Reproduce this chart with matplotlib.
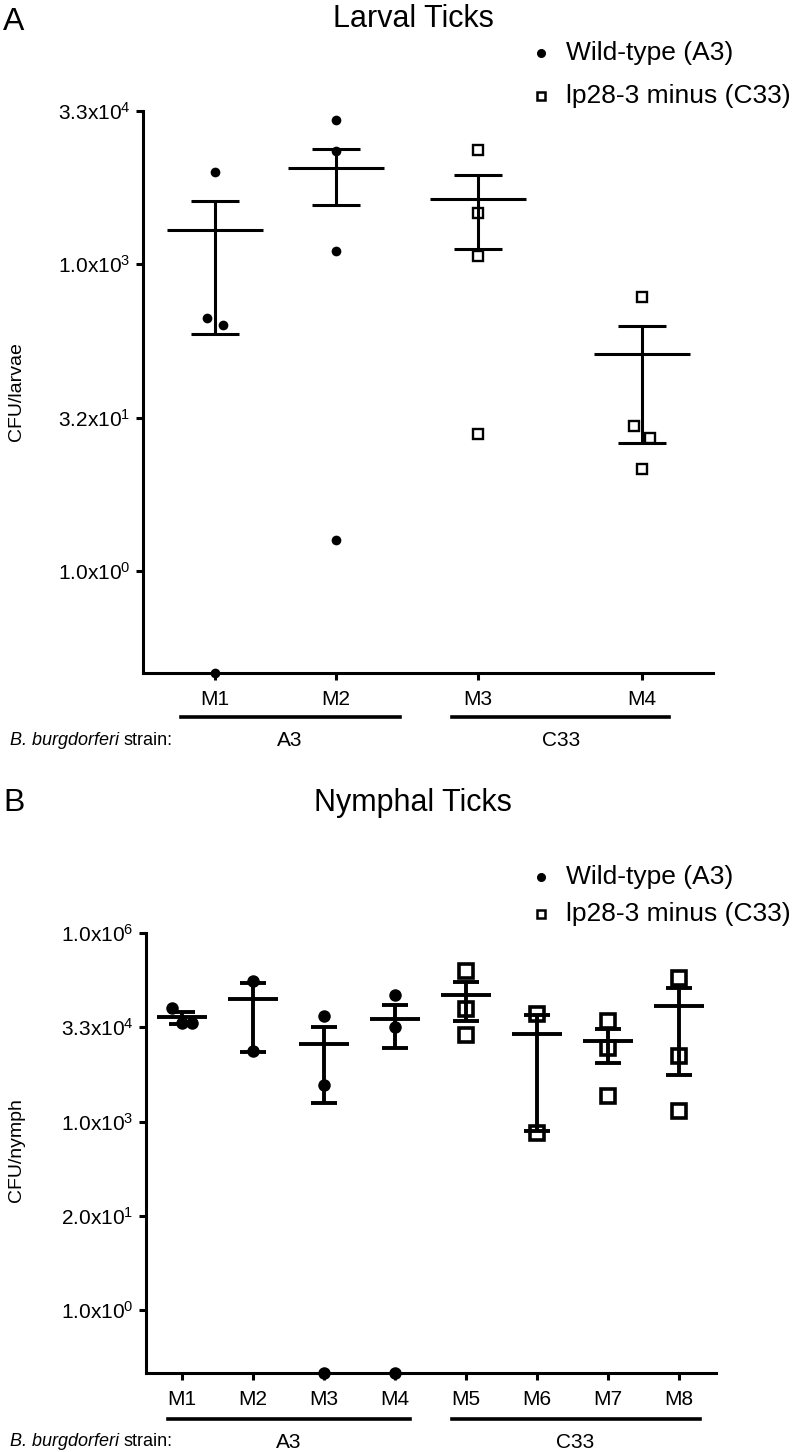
import matplotlib
matplotlib.use('Agg')
import matplotlib.pyplot as plt
from matplotlib.lines import Line2D
import numpy as np

plt.rcParams['font.family'] = ['Liberation Sans', 'DejaVu Sans']
plt.rcParams['mathtext.fontset'] = 'custom'
plt.rcParams['mathtext.rm'] = 'Liberation Sans'
plt.rcParams['mathtext.it'] = 'Liberation Sans:italic'
plt.rcParams['mathtext.bf'] = 'Liberation Sans:bold'

# ---------------- data ----------------
larval_mice = ['M1', 'M2', 'M3', 'M4']
larval_strain = ['A3', 'A3', 'C33', 'C33']
larval_values = [
    [8000, 295, 257, 0],
    [26000, 12900, 1350, 2.0],
    [13200, 3160, 1200, 22],
    [480, 26, 20, 9.9],
]
larval_mean = [2170, 8700, 4400, 133]
larval_sem = [1960, 4860, 3000, 115]
larval_yticks = [1e0, 10 ** 1.5, 1e3, 10 ** 4.5]
larval_yticklabels = ['1.0x10$^{0}$', '3.2x10$^{1}$', '1.0x10$^{3}$', '3.3x10$^{4}$']

nymph_mice = ['M1', 'M2', 'M3', 'M4', 'M5', 'M6', 'M7', 'M8']
nymph_strain = ['A3', 'A3', 'A3', 'A3', 'C33', 'C33', 'C33', 'C33']
nymph_values = [
    [64000, 37000, 37000],
    [170000, 13100],
    [48400, 3780, 0],
    [102000, 32000, 0],
    [245000, 62000, 24200],
    [51500, 662],
    [39400, 14900, 2520],
    [193000, 10900, 1460],
]
nymph_mean = [45500, 88000, 17200, 42800, 103000, 25000, 18900, 68500]
nymph_sem = [9300, 75000, 15240, 27900, 62600, 24300, 10500, 63000]
nymph_yticks = [1e0, 10 ** 1.5, 1e3, 10 ** 4.5, 1e6]
nymph_yticklabels = ['1.0x10$^{0}$', '2.0x10$^{1}$', '1.0x10$^{3}$', '3.3x10$^{4}$', '1.0x10$^{6}$']

legend_labels = ['Wild-type (A3)', 'lp28-3 minus (C33)']
group_labels = ['A3', 'C33']

# ---------------- layout ----------------
W, H = 800, 1452
fig = plt.figure(figsize=(W / 100, H / 100), dpi=100)


def fx(x):
    return x / W


def fy(y):
    return 1 - y / H


larval_pos = [0, 1, 2.174, 3.529]
larval_jit = [[0, -0.07, 0.07, 0], [0, 0, 0, 0], [0, 0, 0, 0], [0, -0.07, 0.07, 0]]
nymph_pos = list(range(8))
nymph_jit = [[-0.14, 0, 0.14], [0, 0], [0, 0, 0], [0, 0, 0],
             [0, 0, 0], [0, 0], [0, 0, 0], [0, 0, 0]]


def draw_panel(ax, pos, jit, values, means, sems, strains, mice, ylim, yticks, yticklabels,
               ms_dot, ms_sq, mew_sq, half, cap, lw, xlim):
    ax.set_yscale('log')
    ax.set_ylim(*ylim)
    ax.set_xlim(*xlim)
    for i in range(len(values)):
        p = pos[i]
        vals = values[i]
        yv = [v if v > 0 else ylim[0] for v in vals]
        xv = [p + j for j in jit[i]]
        if strains[i] == 'A3':
            ax.plot(xv, yv, ls='none', marker='o', ms=ms_dot, mfc='black', mec='black',
                    mew=0, clip_on=False, zorder=5)
        else:
            ax.plot(xv, yv, ls='none', marker='s', ms=ms_sq, mfc='none', mec='black',
                    mew=mew_sq, clip_on=False, zorder=5)
        m, s = means[i], sems[i]
        ax.hlines(m, p - half, p + half, color='black', lw=lw, zorder=6)
        ax.hlines([m - s, m + s], p - cap, p + cap, color='black', lw=lw, zorder=6)
        ax.vlines(p, m - s, m + s, color='black', lw=lw, zorder=6)
    for sp in ['top', 'right']:
        ax.spines[sp].set_visible(False)
    for sp in ['left', 'bottom']:
        ax.spines[sp].set_linewidth(2.2)
    ax.set_yticks(yticks)
    ax.set_yticklabels(yticklabels)
    ax.yaxis.set_minor_locator(matplotlib.ticker.NullLocator())
    ax.set_xticks(pos)
    ax.set_xticklabels(mice)
    ax.tick_params(axis='y', length=5, width=2.2, labelsize=15, pad=4)
    ax.tick_params(axis='x', length=5, width=2.2, labelsize=15, pad=7)
    ax.patch.set_alpha(0)


# Panel A
axA = fig.add_axes([fx(143), fy(673), 570 / W, 562 / H])
draw_panel(axA, larval_pos, larval_jit, larval_values, larval_mean, larval_sem,
           larval_strain, larval_mice, (0.1, 10 ** 4.5), larval_yticks, larval_yticklabels,
           ms_dot=7, ms_sq=7.5, mew_sq=1.7, half=0.40, cap=0.20, lw=2.2,
           xlim=(-0.595, 4.116))

# Panel B
axB = fig.add_axes([fx(146), fy(1373), 570 / W, 440 / H])
draw_panel(axB, nymph_pos, nymph_jit, nymph_values, nymph_mean, nymph_sem,
           nymph_strain, nymph_mice, (0.1, 1e6), nymph_yticks, nymph_yticklabels,
           ms_dot=9, ms_sq=9.5, mew_sq=2.6, half=0.352, cap=0.183, lw=2.8,
           xlim=(-0.503, 7.525))

# titles and panel letters
fig.text(fx(14), fy(22), 'A', fontsize=23, ha='center', va='center')
fig.text(fx(413), fy(19), 'Larval Ticks', fontsize=22, ha='center', va='center')
fig.text(fx(14), fy(803), 'B', fontsize=23, ha='center', va='center')
fig.text(fx(413), fy(803), 'Nymphal Ticks', fontsize=22, ha='center', va='center')

# y labels
fig.text(fx(17), fy(392), 'CFU/larvae', rotation=90, fontsize=14, ha='center', va='center')
fig.text(fx(17), fy(1150), 'CFU/nymph', rotation=90, fontsize=14, ha='center', va='center')


# legends (manual)
def legend_at(y1, y2):
    for (yy, lab, mk) in [(y1, legend_labels[0], 'o'), (y2, legend_labels[1], 's')]:
        if mk == 'o':
            fig.add_artist(Line2D([fx(541)], [fy(yy)], marker='o', ms=6.5, mfc='black',
                                  mec='black', mew=0, ls='none', transform=fig.transFigure))
        else:
            fig.add_artist(Line2D([fx(541)], [fy(yy)], marker='s', ms=6, mfc='none',
                                  mec='black', mew=1.8, ls='none', transform=fig.transFigure))
        fig.text(fx(566), fy(yy), lab, fontsize=19, ha='left', va='center')


legend_at(53, 96)
legend_at(877, 914)

renderer = fig.canvas.get_renderer()


# group lines and labels
def group(y_line, y_text, spans, centers):
    for (x0, x1), xc, lab in zip(spans, centers, group_labels):
        fig.add_artist(Line2D([fx(x0), fx(x1)], [fy(y_line), fy(y_line)], color='black',
                              lw=2.6, transform=fig.transFigure))
        fig.text(fx(xc), fy(y_text), lab, fontsize=15, ha='center', va='center')
    t1 = fig.text(fx(10), fy(y_text), 'B. burgdorferi', fontsize=13, fontstyle='italic',
                  ha='left', va='center')
    bb = t1.get_window_extent(renderer=renderer)
    fig.text(fx(10 + bb.width + 4), fy(y_text), 'strain:', fontsize=13,
             ha='left', va='center')


group(717, 740, [(181, 400), (452, 669)], [290, 561])
group(1419, 1442, [(168, 410), (452, 700)], [289, 575])

fig.savefig('out.png', dpi=100)
